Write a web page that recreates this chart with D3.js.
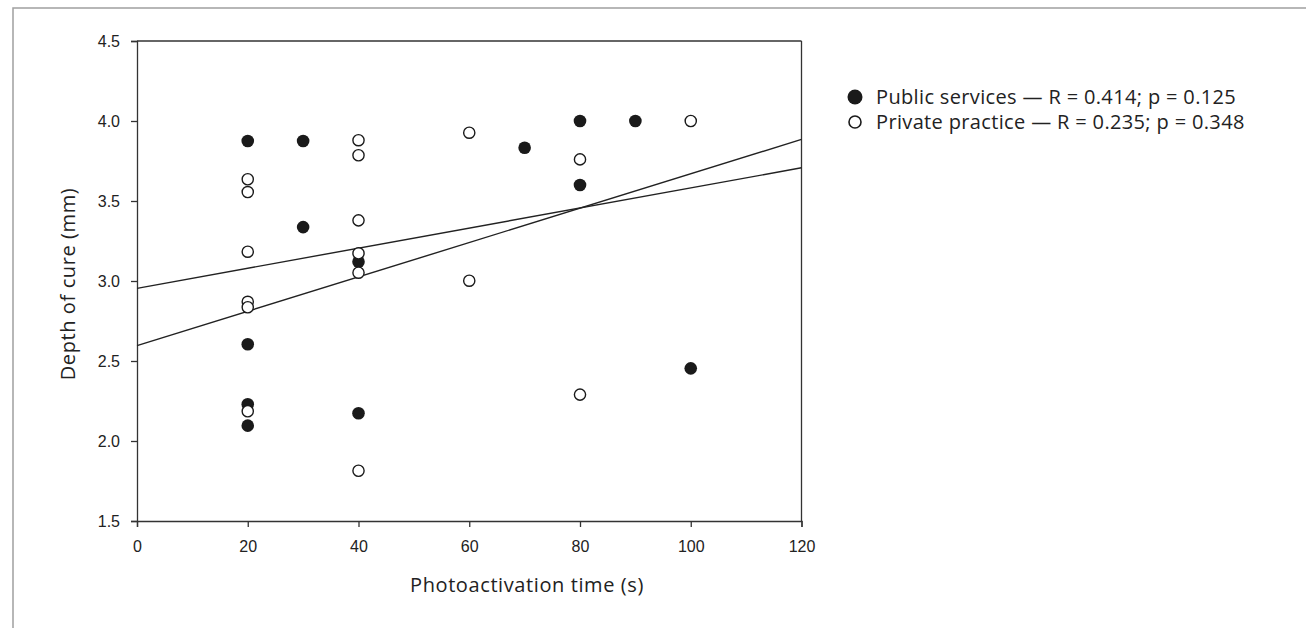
<!DOCTYPE html>
<html>
<head>
<meta charset="utf-8">
<script src="https://d3js.org/d3.v7.min.js"></script>
<style>
  body { margin: 0; background: #fff; }
  .tick text { font-family: "Liberation Sans", Arial, sans-serif; font-size: 16px; fill: #222; }
  .lbl { font-family: "Open Sans", sans-serif; fill: #222; }
</style>
</head>
<body>
<script>
// photoactivation time (s) and depth of cure (mm)
var publicX = [20, 30, 20, 20, 20, 30, 40, 40, 70, 80, 90, 80, 100];
var publicY = [3.875, 3.875, 2.605, 2.23, 2.096, 3.337, 3.12, 2.173, 3.833, 4.0, 4.0, 3.6, 2.454];
var privateX = [20, 20, 20, 20, 20, 20, 40, 40, 40, 40, 40, 40, 60, 60, 80, 80, 100];
var privateY = [3.636, 3.556, 3.183, 2.87, 2.836, 2.186, 3.88, 3.786, 3.379, 3.173, 3.052, 1.814, 3.927, 3.002, 3.76, 2.29, 4.0];

// fitted lines: [intercept, slope]
var fitLines = [[2.596, 0.01074], [2.954, 0.00628]];

var xTicks = [0, 20, 40, 60, 80, 100, 120];
var yTicks = [1.5, 2.0, 2.5, 3.0, 3.5, 4.0, 4.5];
var legendLabels = ["Public services \u2014 R = 0.414; p = 0.125", "Private practice \u2014 R = 0.235; p = 0.348"];

var W = 1306, H = 628;
var svg = d3.select("body").append("svg").attr("width", W).attr("height", H);

// outer frame
svg.append("rect").attr("x", 13).attr("y", 8).attr("width", W).attr("height", H)
  .attr("fill", "none").attr("stroke", "#a0a0a0").attr("stroke-width", 1.5);

var x = d3.scaleLinear().domain([0, 120]).range([137, 801.5]);
var y = d3.scaleLinear().domain([1.5, 4.5]).range([521, 41]);

// box
svg.append("line").attr("x1", x(0)).attr("x2", x(120)).attr("y1", y(4.5)).attr("y2", y(4.5))
  .attr("stroke", "#333").attr("stroke-width", 1.3);
svg.append("line").attr("x1", x(120)).attr("x2", x(120)).attr("y1", y(4.5)).attr("y2", y(1.5))
  .attr("stroke", "#333").attr("stroke-width", 1.3);

var fmt = d3.format(".1f");
svg.append("g").attr("transform", "translate(0," + y(1.5) + ")")
  .call(d3.axisBottom(x).tickValues(xTicks).tickSize(6).tickPadding(14).tickFormat(d3.format("d")))
  .call(function(g) { g.selectAll("path, line").attr("stroke", "#333").attr("stroke-width", 1.3); });
svg.append("g").attr("transform", "translate(" + x(0) + ",0)")
  .call(d3.axisLeft(y).tickValues(yTicks).tickSize(6).tickPadding(11).tickFormat(fmt))
  .call(function(g) { g.selectAll("path, line").attr("stroke", "#333").attr("stroke-width", 1.3); });

// regression lines
svg.selectAll(".fit").data(fitLines).enter().append("line")
  .attr("class", "fit")
  .attr("x1", x(0)).attr("x2", x(120))
  .attr("y1", function(d) { return y(d[0]); })
  .attr("y2", function(d) { return y(d[0] + d[1] * 120); })
  .attr("stroke", "#222").attr("stroke-width", 1.4);

// points
var pub = d3.zip(publicX, publicY), priv = d3.zip(privateX, privateY);
svg.selectAll(".pub").data(pub).enter().append("circle")
  .attr("class", "pub").attr("r", 6.3)
  .attr("cx", function(d) { return x(d[0]); }).attr("cy", function(d) { return y(d[1]); })
  .attr("fill", "#1a1a1a");
svg.selectAll(".priv").data(priv).enter().append("circle")
  .attr("class", "priv").attr("r", 5.6)
  .attr("cx", function(d) { return x(d[0]); }).attr("cy", function(d) { return y(d[1]); })
  .attr("fill", "#fff").attr("stroke", "#1a1a1a").attr("stroke-width", 1.4);

// axis titles
svg.append("text").attr("class", "lbl").attr("x", 527).attr("y", 592)
  .attr("text-anchor", "middle").style("font-size", "20px").style("letter-spacing", "0.6px")
  .text("Photoactivation time (s)");
svg.append("text").attr("class", "lbl").attr("transform", "translate(75,284) rotate(-90)")
  .attr("text-anchor", "middle").style("font-size", "20px").style("letter-spacing", "0.6px")
  .text("Depth of cure (mm)");

// legend
var leg = svg.selectAll(".leg").data(legendLabels).enter().append("g")
  .attr("class", "leg").attr("transform", function(d, i) { return "translate(855," + (97 + i * 25) + ")"; });
leg.append("circle").attr("r", function(d, i) { return i ? 6 : 7.5; })
  .attr("fill", function(d, i) { return i ? "#fff" : "#1a1a1a"; })
  .attr("stroke", "#1a1a1a").attr("stroke-width", function(d, i) { return i ? 1.6 : 0; });
leg.append("text").attr("class", "lbl").attr("x", 21).attr("dy", "0.35em")
  .style("font-size", "20px").style("letter-spacing", "0.35px").text(function(d) { return d; });
</script>
</body>
</html>
